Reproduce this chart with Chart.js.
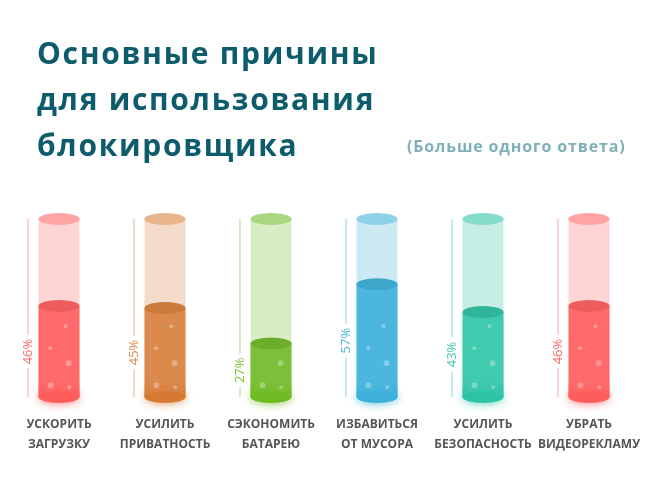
<!DOCTYPE html>
<html>
<head>
<meta charset="utf-8">
<script src="https://cdn.jsdelivr.net/npm/chart.js@4/dist/chart.umd.min.js"></script>
<style>
  html, body { margin: 0; padding: 0; background: #fff; }
  #wrap { position: relative; width: 648px; height: 480px; overflow: hidden; }
  #title {
    position: absolute; left: 37px; top: 30px; margin: 0;
    font: 700 30px/46px "Open Sans", sans-serif; letter-spacing: 1.7px;
    color: #0d5c6c;
  }
  #sub {
    position: absolute; left: 407px; top: 136px; margin: 0;
    font: 700 16px/20px "Open Sans", sans-serif; letter-spacing: 0.85px;
    color: #7fb0b9;
  }
  canvas { position: absolute; left: 0; top: 0; }
</style>
</head>
<body>
<div id="wrap">
  <canvas id="chart" width="648" height="480"></canvas>
  <h1 id="title">Основные причины<br>для использования<br>блокировщика</h1>
  <div id="sub">(Больше одного ответа)</div>
</div>
<script>
const categories = [
  ['УСКОРИТЬ', 'ЗАГРУЗКУ'],
  ['УСИЛИТЬ', 'ПРИВАТНОСТЬ'],
  ['СЭКОНОМИТЬ', 'БАТАРЕЮ'],
  ['ИЗБАВИТЬСЯ', 'ОТ МУСОРА'],
  ['УСИЛИТЬ', 'БЕЗОПАСНОСТЬ'],
  ['УБРАТЬ', 'ВИДЕОРЕКЛАМУ']
]
const shares = [46, 45, 27, 57, 43, 46]
const tubeMax = 90

const fillColors = ['#ff6b6b', '#da8a4c', '#7cc03a', '#4cb7dc', '#40caae', '#ff6b6b']
const fillTopColors = ['#ee5d5d', '#c97a3c', '#6aae2a', '#3da6cb', '#2eb59a', '#ee5d5d']
const bottomColors = ['#ff5c5c', '#d67a33', '#6fba22', '#3db0da', '#2ec3a5', '#ff5c5c']
const tubeColors = ['#ffd4d4', '#f5dcca', '#d9edc5', '#cbeaf4', '#c6eee5', '#ffd4d4']
const tubeTopColors = ['#ffa3a3', '#e8b48c', '#a9d780', '#8ed1e8', '#86dccb', '#ffa3a3']

// little bubbles inside the liquid: [dx from centre, dy from bottom, radius]
const bubbles = [[6.5, -70.7, 2], [-8.8, -48.7, 2], [9.5, -33.7, 3], [-8.5, -11.7, 3], [10.2, -9.7, 2]]

const ellipse = (ctx, x, y, rx, ry, color) => {
  ctx.beginPath()
  ctx.ellipse(x, y, rx, ry, 0, 0, Math.PI * 2)
  ctx.fillStyle = color
  ctx.fill()
}

const tubePlugin = {
  id: 'tubes',
  afterDatasetsDraw(chart) {
    const ctx = chart.ctx
    const fillMeta = chart.getDatasetMeta(0)
    const tubeMeta = chart.getDatasetMeta(1)
    const ry = 6

    tubeMeta.data.forEach((bar, i) => {
      const rx = bar.width / 2
      const liquid = fillMeta.data[i]

      // slightly deeper colour just above the bottom
      const grad = ctx.createLinearGradient(0, bar.base - 16, 0, bar.base)
      grad.addColorStop(0, bottomColors[i] + '00')
      grad.addColorStop(1, bottomColors[i])
      ctx.fillStyle = grad
      ctx.fillRect(bar.x - rx, bar.base - 16, rx * 2, 16)

      // bottom with a soft glow
      ctx.save()
      ctx.shadowColor = fillColors[i]
      ctx.shadowBlur = 10
      ellipse(ctx, bar.x, bar.base, rx, ry, bottomColors[i])
      ctx.restore()

      // bubbles
      ctx.fillStyle = 'rgba(255,255,255,0.3)'
      bubbles.forEach(([dx, dy, r]) => {
        const by = liquid.base + dy
        if (by - r > liquid.y + ry + 2) {
          ctx.beginPath()
          ctx.arc(bar.x + dx, by, r, 0, Math.PI * 2)
          ctx.fill()
        }
      })

      // surface of the liquid and the tube opening
      ellipse(ctx, liquid.x, liquid.y, rx, ry, fillTopColors[i])
      ellipse(ctx, bar.x, bar.y, rx, ry, tubeTopColors[i])

      // side line with the rotated percentage
      const lx = bar.x - rx - 10.5
      const mid = (liquid.y + liquid.base) / 2
      const label = shares[i] + '%'
      ctx.font = '400 13px "Open Sans"'
      const tw = ctx.measureText(label).width
      ctx.strokeStyle = tubeTopColors[i]
      ctx.lineWidth = 1
      ctx.beginPath()
      ctx.moveTo(lx, bar.y)
      ctx.lineTo(lx, mid - tw / 2 - 4)
      ctx.moveTo(lx, mid + tw / 2 + 4)
      ctx.lineTo(lx, bar.base)
      ctx.stroke()

      ctx.save()
      ctx.translate(lx, mid)
      ctx.rotate(-Math.PI / 2)
      ctx.fillStyle = fillColors[i]
      ctx.textAlign = 'center'
      ctx.textBaseline = 'middle'
      ctx.fillText(label, 0, 0)
      ctx.restore()
    })
  }
}

new Chart(document.getElementById('chart'), {
  type: 'bar',
  data: {
    labels: categories,
    datasets: [
      {
        data: shares,
        backgroundColor: fillColors,
        borderWidth: 0,
        grouped: false,
        order: 0
      },
      {
        data: categories.map(() => tubeMax),
        backgroundColor: tubeColors,
        borderWidth: 0,
        grouped: false,
        order: 1
      }
    ]
  },
  options: {
    responsive: false,
    devicePixelRatio: 1,
    animation: false,
    layout: { padding: { top: 219, left: 6, right: 6, bottom: 8 } },
    datasets: { bar: { barPercentage: 0.387, categoryPercentage: 1 } },
    scales: {
      y: { display: false, min: 0, max: tubeMax },
      x: {
        grid: { display: false, drawTicks: false },
        border: { display: false },
        afterFit(scale) {
          // labels may hang over the edges a little, keep the spacing fixed
          scale.paddingLeft = 0
          scale.paddingRight = 0
        },
        ticks: {
          padding: 18,
          autoSkip: false,
          maxRotation: 0,
          minRotation: 0,
          color: '#555555',
          font: { family: 'Open Sans', size: 12, weight: '700', lineHeight: 1.625 }
        }
      }
    },
    plugins: {
      legend: { display: false },
      tooltip: { enabled: false }
    }
  },
  plugins: [tubePlugin]
})
</script>
</body>
</html>
